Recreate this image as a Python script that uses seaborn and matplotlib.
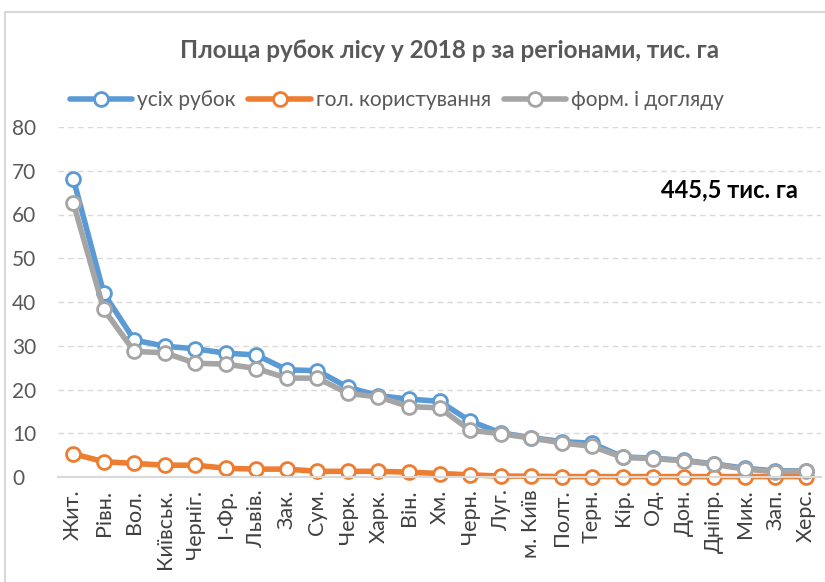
import pandas as pd
import matplotlib.pyplot as plt
import seaborn as sns
from matplotlib.patches import Rectangle

regions = ['Жит.', 'Рівн.', 'Вол.', 'Київськ.', 'Черніг.', 'І-Фр.', 'Львів.', 'Зак.',
           'Сум.', 'Черк.', 'Харк.', 'Він.', 'Хм.', 'Черн.', 'Луг.', 'м. Київ',
           'Полт.', 'Терн.', 'Кір.', 'Од.', 'Дон.', 'Дніпр.', 'Мик.', 'Зап.', 'Херс.']
all_cuts = [68.2, 42.0, 31.3, 29.9, 29.3, 28.3, 27.9, 24.5, 24.3, 20.5, 18.6, 17.8,
            17.3, 12.8, 10.1, 9.0, 8.1, 7.7, 4.6, 4.3, 3.8, 3.0, 2.0, 1.4, 1.4]
main_use = [5.3, 3.5, 3.1, 2.7, 2.7, 2.0, 1.8, 1.8, 1.3, 1.3, 1.3, 1.1,
            0.8, 0.5, 0.2, 0.2, 0.1, 0.1, 0.1, 0.1, 0.1, 0.1, 0.1, 0.1, 0.1]
care_cuts = [62.7, 38.3, 28.7, 28.4, 26.0, 25.8, 24.8, 22.6, 22.6, 19.1, 18.3, 16.1,
             15.8, 10.7, 9.9, 8.9, 7.8, 7.0, 4.5, 4.2, 3.7, 2.9, 1.8, 1.2, 1.4]
series_names = ['усіх рубок', 'гол. користування', 'форм. і догляду']
colors = ['#5B9BD5', '#ED7D31', '#A5A5A5']
yticks = [0, 10, 20, 30, 40, 50, 60, 70, 80]

df = pd.DataFrame({'region': regions, series_names[0]: all_cuts,
                   series_names[1]: main_use, series_names[2]: care_cuts})

sns.set_style('white')
plt.rcParams['font.family'] = ['Lato', 'DejaVu Sans']

fig = plt.figure(figsize=(8.25, 5.82), dpi=100)
ax = fig.add_axes([58 / 825, 1 - 477 / 582, 763 / 825, 350 / 582])

# border of the chart area
fig.patches.append(Rectangle((5 / 825, -0.05), 1.0, 1 - 12 / 582 + 0.05,
                             transform=fig.transFigure, fill=False,
                             edgecolor='#D9D9D9', linewidth=1.5))

for name, col in zip(series_names, colors):
    sns.lineplot(data=df, x='region', y=name, ax=ax, color=col, linewidth=4,
                 marker='o', markersize=10, markerfacecolor='white',
                 markeredgecolor=col, markeredgewidth=2, label=name, sort=False,
                 clip_on=False)

ax.set_xlim(-0.5, len(regions) - 0.5)
ax.set_ylim(0, 80)
ax.set_yticks(yticks)
ax.yaxis.grid(True, linestyle=(0, (4, 3)), color='#D9D9D9', linewidth=1)
ax.set_axisbelow(True)
for s in ['top', 'right', 'left']:
    ax.spines[s].set_visible(False)
ax.spines['bottom'].set_color('#D9D9D9')
ax.spines['bottom'].set_linewidth(1.5)
ax.set_xlabel('')
ax.set_ylabel('')
ax.tick_params(axis='x', rotation=90, labelsize=15.5, colors='#404040', length=0, pad=9)
ax.tick_params(axis='y', labelsize=15, colors='#595959', length=0, pad=33)
for lab in ax.get_yticklabels():
    lab.set_horizontalalignment('left')

fig.text(450 / 825, 1 - 51 / 582, 'Площа рубок лісу у 2018 р за регіонами, тис. га',
         ha='center', va='center', fontsize=17.5, fontweight='bold', color='#595959')
ax.text(0.97, 0.82, '445,5 тис. га', transform=ax.transAxes, ha='right', va='center',
        fontsize=17, fontweight='bold', color='black')

ax.legend(loc='center', bbox_to_anchor=(397 / 825, 1 - 100 / 582),
          bbox_transform=fig.transFigure, ncol=3, frameon=False, fontsize=15,
          handlelength=3.0, columnspacing=0.6, handletextpad=0.25, labelcolor='#595959')

fig.savefig('out.png', dpi=100)
